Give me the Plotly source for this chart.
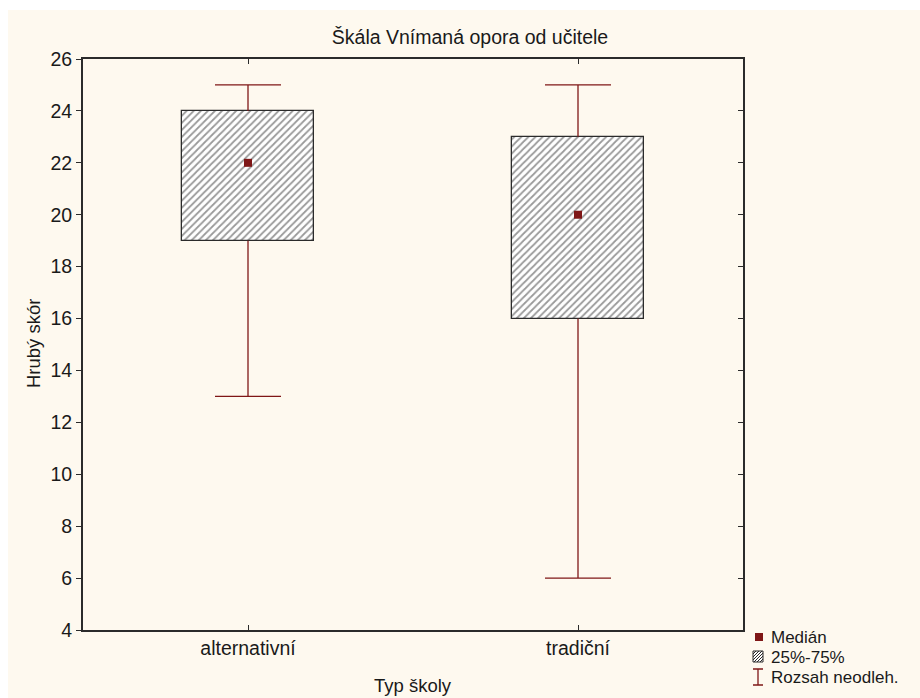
import plotly.graph_objects as go

# Box-plot summary per school type
categories = ["alternativní", "tradiční"]
median = [22, 20]
q1 = [19, 16]
q3 = [24, 23]
whisker_lo = [13, 6]
whisker_hi = [25, 25]

y_ticks = list(range(4, 27, 2))

# figure geometry (pixels)
W_FIG, H_FIG = 920, 698
L, R, T, B = 83, 177, 59, 68
PW, PH = W_FIG - L - R, H_FIG - T - B

RED = "#7f1717"
DARK = "#2b2b2b"
CREAM = "#fef9ef"
FONT = "Liberation Sans, Arial, sans-serif"
FS = 19.5


def px_x(px):
    return (px - L) / PW


def px_y(py):
    return (H_FIG - B - py) / PH


xs = list(range(len(categories)))
fig = go.Figure()

# interquartile boxes
fig.add_trace(go.Bar(
    x=xs,
    y=[b - a for a, b in zip(q1, q3)],
    base=q1,
    width=0.4,
    marker=dict(
        color="white",
        line=dict(color=DARK, width=1.3),
        pattern=dict(shape="/", fgcolor="#333333", bgcolor="white", size=5, solidity=0.35),
    ),
    showlegend=False,
    hoverinfo="skip",
))

# whiskers and caps
cap = 0.1
wx, wy = [], []
for i in xs:
    wx += [i, i, None, i, i, None, i - cap, i + cap, None, i - cap, i + cap, None]
    wy += [q3[i], whisker_hi[i], None, q1[i], whisker_lo[i], None,
           whisker_hi[i], whisker_hi[i], None, whisker_lo[i], whisker_lo[i], None]
fig.add_trace(go.Scatter(
    x=wx, y=wy, mode="lines", line=dict(color=RED, width=1.3),
    showlegend=False, hoverinfo="skip",
))

# medians
fig.add_trace(go.Scatter(
    x=xs, y=median, mode="markers",
    marker=dict(symbol="square", size=8, color=RED),
    showlegend=False,
))

# right-hand axis carrying the inward ticks
fig.add_trace(go.Scatter(x=[], y=[], yaxis="y2", showlegend=False))

shapes = [
    dict(type="rect", xref="paper", yref="paper", layer="below",
         x0=px_x(8), x1=px_x(W_FIG + 2), y0=px_y(H_FIG + 2), y1=px_y(10),
         fillcolor=CREAM, line=dict(width=0)),
]

# legend swatches
legend_labels = ["Medián", "25%-75%", "Rozsah neodleh."]
legend_rows = [637, 657, 677]

r0 = legend_rows[0]
shapes.append(dict(type="rect", xref="paper", yref="paper",
                   x0=px_x(755), x1=px_x(763), y0=px_y(r0 + 4), y1=px_y(r0 - 4),
                   fillcolor=RED, line=dict(width=0)))
r1 = legend_rows[1]
sx0, sx1, sy0, sy1 = 753, 763, r1 - 6, r1 + 5
shapes.append(dict(type="rect", xref="paper", yref="paper",
                   x0=px_x(sx0), x1=px_x(sx1), y0=px_y(sy1), y1=px_y(sy0),
                   fillcolor="white", line=dict(color=DARK, width=1)))
side = sy1 - sy0
path = ""
k = -side
while k < (sx1 - sx0):
    # diagonal "/" from bottom-left to top-right, clipped to the square
    ax, ay = sx0 + k, sy1
    bx, by = sx0 + k + side, sy0
    if ax < sx0:
        ay = sy1 - (sx0 - ax)
        ax = sx0
    if bx > sx1:
        by = sy0 + (bx - sx1)
        bx = sx1
    path += f"M{px_x(ax)},{px_y(ay)} L{px_x(bx)},{px_y(by)} "
    k += 3
shapes.append(dict(type="path", xref="paper", yref="paper", path=path,
                   line=dict(color=DARK, width=1)))
r2 = legend_rows[2]
ix, iy0, iy1 = 758, r2 - 8, r2 + 8
shapes.append(dict(type="path", xref="paper", yref="paper",
                   path=(f"M{px_x(ix)},{px_y(iy0)} L{px_x(ix)},{px_y(iy1)} "
                         f"M{px_x(ix - 5)},{px_y(iy0)} L{px_x(ix + 5)},{px_y(iy0)} "
                         f"M{px_x(ix - 5)},{px_y(iy1)} L{px_x(ix + 5)},{px_y(iy1)}"),
                   line=dict(color=RED, width=1.3)))

annotations = [
    dict(text=t, x=px_x(770), y=px_y(py), xref="paper", yref="paper",
         xanchor="left", yanchor="middle", showarrow=False, borderpad=0,
         font=dict(family=FONT, size=17, color="#1a1a1a"))
    for t, py in zip(legend_labels, legend_rows)
]
annotations += [
    dict(text="Typ školy", x=px_x(413), y=px_y(685), xref="paper", yref="paper",
         xanchor="center", yanchor="middle", showarrow=False,
         font=dict(family=FONT, size=18.5, color="#1a1a1a")),
    dict(text="Hrubý skór", x=px_x(33), y=px_y(344), xref="paper", yref="paper",
         xanchor="center", yanchor="middle", showarrow=False, textangle=-90,
         font=dict(family=FONT, size=18.5, color="#1a1a1a")),
]

fig.update_layout(
    width=W_FIG, height=H_FIG, autosize=False,
    margin=dict(l=L, r=R, t=T, b=B, pad=0),
    paper_bgcolor="white", plot_bgcolor="white",
    font=dict(family=FONT, size=FS, color="#1a1a1a"),
    title=dict(text="Škála Vnímaná opora od učitele", x=470 / W_FIG, xanchor="center",
               y=1 - 37 / H_FIG, yanchor="middle", font=dict(family=FONT, size=FS)),
    xaxis=dict(range=[-0.5, 1.5], tickvals=xs, ticktext=categories,
               ticks="inside", ticklen=5, tickcolor=DARK, mirror="ticks",
               showline=True, linecolor=DARK, linewidth=2,
               showgrid=False, zeroline=False, fixedrange=True),
    yaxis=dict(range=[4, 26], tickvals=y_ticks, ticks="outside", ticklen=5,
               tickcolor=DARK, showline=True, mirror=True, linecolor=DARK, linewidth=2,
               showgrid=False, zeroline=False, fixedrange=True),
    yaxis2=dict(range=[4, 26], tickvals=y_ticks, overlaying="y", side="right",
                ticks="inside", ticklen=5, tickcolor=DARK, showticklabels=False,
                showline=False, showgrid=False, zeroline=False, fixedrange=True),
    bargap=0,
    shapes=shapes,
    annotations=annotations,
    showlegend=False,
)

fig.write_html("out.html")
